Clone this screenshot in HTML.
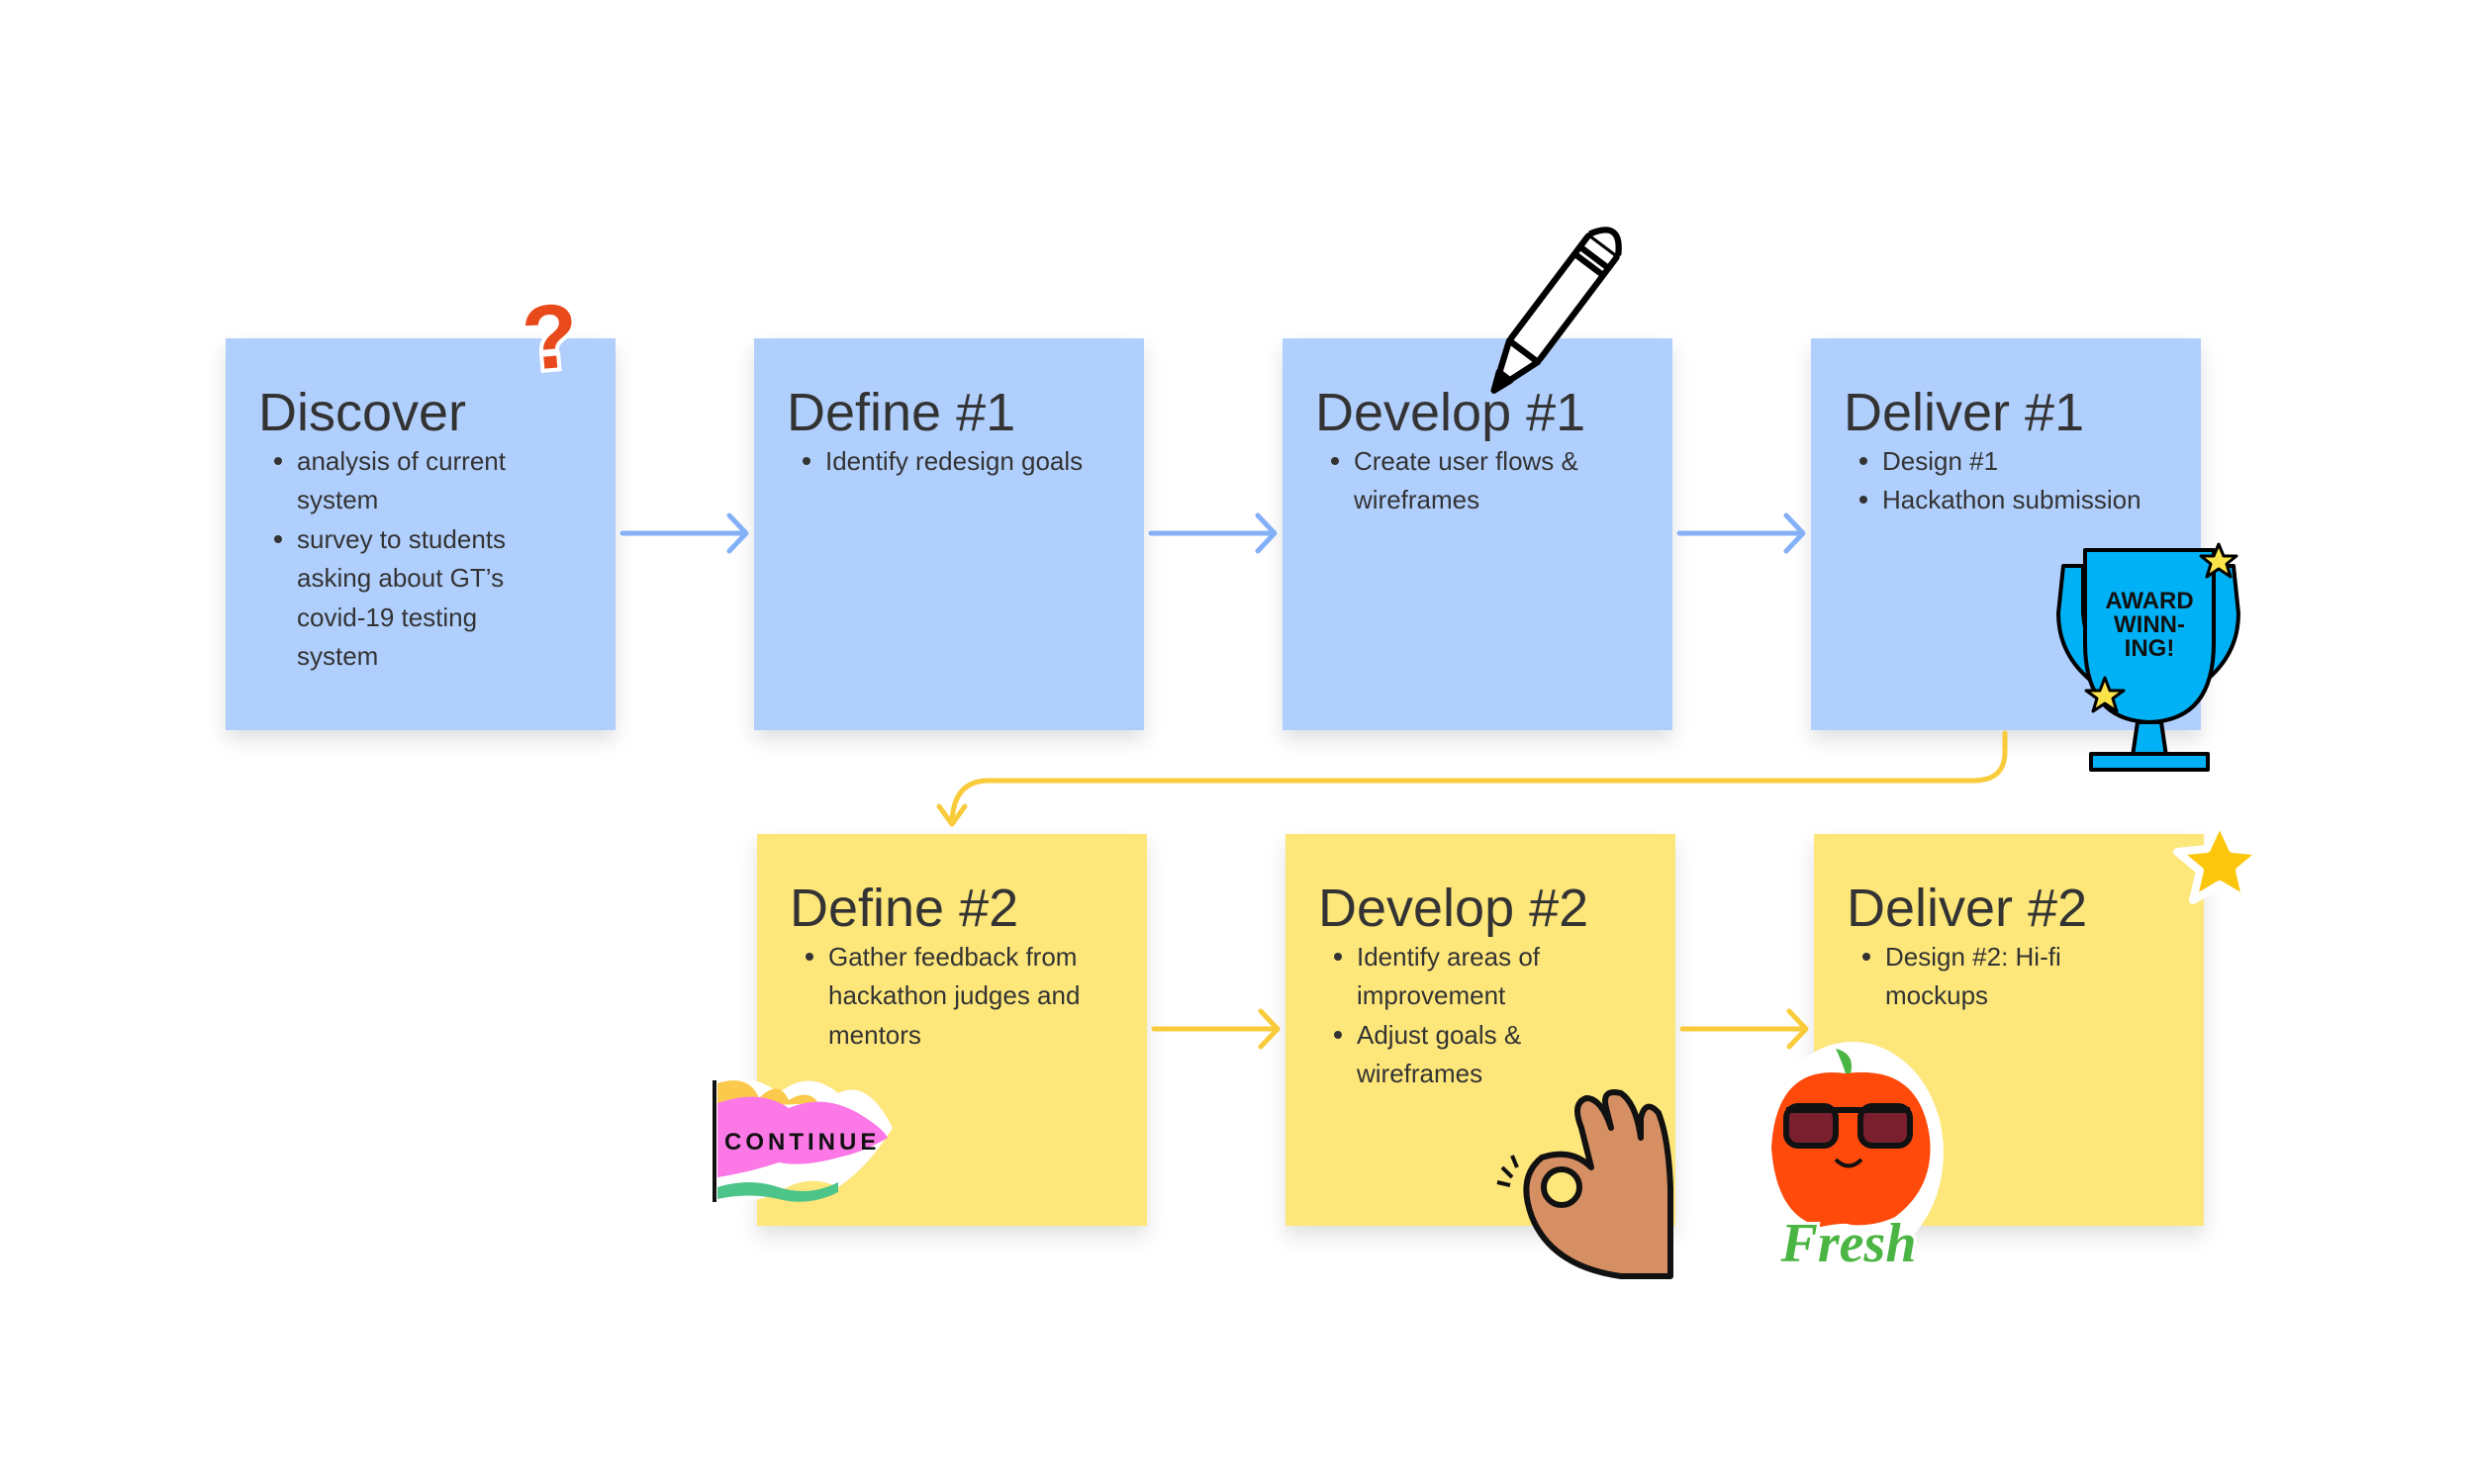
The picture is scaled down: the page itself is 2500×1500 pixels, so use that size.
<!DOCTYPE html>
<html><head><meta charset="utf-8"><style>
html,body{margin:0;padding:0;background:#fff;}
svg{display:block;}
text{font-family:"Liberation Sans",sans-serif;fill:#333;}
.t{font-size:54px;}
.b{font-size:26px;}
</style></head><body>
<svg width="2500" height="1500" viewBox="0 0 2500 1500" xmlns="http://www.w3.org/2000/svg">
<defs>
<filter id="sh" x="-10%" y="-10%" width="130%" height="130%"><feDropShadow dx="0" dy="10" stdDeviation="10" flood-color="#000" flood-opacity="0.12"/></filter>
</defs>
<g filter="url(#sh)" fill="#b1cffd">
<rect x="228" y="342" width="394" height="396"/>
<rect x="762" y="342" width="394" height="396"/>
<rect x="1296" y="342" width="394" height="396"/>
<rect x="1830" y="342" width="394" height="396"/>
</g>
<g filter="url(#sh)" fill="#fde67a">
<rect x="765" y="843" width="394" height="396"/>
<rect x="1299" y="843" width="394" height="396"/>
<rect x="1833" y="843" width="394" height="396"/>
</g>
<g stroke="#84b0f8" stroke-width="5" fill="none" stroke-linecap="round" stroke-linejoin="round">
<path d="M629 539 H753 M737 521 L754 539 L737 557"/>
<path d="M1163 539 H1287 M1271 521 L1288 539 L1271 557"/>
<path d="M1697 539 H1821 M1805 521 L1822 539 L1805 557"/>
</g>
<g stroke="#f9cb3a" stroke-width="5" fill="none" stroke-linecap="round" stroke-linejoin="round">
<path d="M1166 1040 H1290 M1274 1022 L1291 1040 L1274 1058"/>
<path d="M1700 1040 H1824 M1808 1022 L1825 1040 L1808 1058"/>
<path d="M2026 741 V760 Q2026 789 1994 789 H999 Q964 789 962 830 M949 815 L962 833 L975 815"/>
</g>
<text class="t" x="261" y="435">Discover</text>
<circle cx="281" cy="466" r="4" fill="#333"/><text class="b" x="300" y="475">analysis of current</text>
<text class="b" x="300" y="514">system</text>
<circle cx="281" cy="545" r="4" fill="#333"/><text class="b" x="300" y="554">survey to students</text>
<text class="b" x="300" y="593">asking about GT’s</text>
<text class="b" x="300" y="633">covid-19 testing</text>
<text class="b" x="300" y="672">system</text>
<text class="t" x="795" y="435">Define #1</text>
<circle cx="815" cy="466" r="4" fill="#333"/><text class="b" x="834" y="475">Identify redesign goals</text>
<text class="t" x="1329" y="435">Develop #1</text>
<circle cx="1349" cy="466" r="4" fill="#333"/><text class="b" x="1368" y="475">Create user flows &amp;</text>
<text class="b" x="1368" y="514">wireframes</text>
<text class="t" x="1863" y="435">Deliver #1</text>
<circle cx="1883" cy="466" r="4" fill="#333"/><text class="b" x="1902" y="475">Design #1</text>
<circle cx="1883" cy="505" r="4" fill="#333"/><text class="b" x="1902" y="514">Hackathon submission</text>

<text class="t" x="798" y="936">Define #2</text>
<circle cx="818" cy="967" r="4" fill="#333"/><text class="b" x="837" y="976">Gather feedback from</text>
<text class="b" x="837" y="1015">hackathon judges and</text>
<text class="b" x="837" y="1055">mentors</text>
<text class="t" x="1332" y="936">Develop #2</text>
<circle cx="1352" cy="967" r="4" fill="#333"/><text class="b" x="1371" y="976">Identify areas of</text>
<text class="b" x="1371" y="1015">improvement</text>
<circle cx="1352" cy="1046" r="4" fill="#333"/><text class="b" x="1371" y="1055">Adjust goals &amp;</text>
<text class="b" x="1371" y="1094">wireframes</text>
<text class="t" x="1866" y="936">Deliver #2</text>
<circle cx="1886" cy="967" r="4" fill="#333"/><text class="b" x="1905" y="976">Design #2: Hi-fi</text>
<text class="b" x="1905" y="1015">mockups</text>

<text x="556" y="372" font-size="92" font-weight="bold" text-anchor="middle" style="fill:#e94a1c;stroke:#fff;stroke-width:8;paint-order:stroke" transform="rotate(-5 556 340)">?</text>
<g transform="translate(1572 312) rotate(37) scale(0.9)" stroke="#000" stroke-width="7" fill="#fff" stroke-linejoin="round">
<rect x="-20" y="-90" width="40" height="150" rx="4"/>
<path d="M-20 60 L0 115 L20 60 Z"/>
<path d="M-8 95 L0 115 L8 95 Z" fill="#000"/>
<path d="M-20 -90 Q0 -125 20 -90" />
<line x1="-20" y1="-72" x2="20" y2="-72"/><line x1="-20" y1="-62" x2="20" y2="-62"/>
</g>
<g stroke="#000" stroke-width="4" stroke-linejoin="round">
<path d="M2085 572 H2105 V620 Q2110 670 2135 690 L2130 700 Q2080 670 2080 620 Z" fill="#00b2f5"/>
<path d="M2257 572 H2237 V620 Q2232 670 2207 690 L2212 700 Q2262 670 2262 620 Z" fill="#00b2f5"/>
<path d="M2107 556 H2237 V650 Q2237 728 2172 730 Q2107 728 2107 650 Z" fill="#00b2f5"/>
<path d="M2160 730 L2155 764 H2189 L2184 730 Z" fill="#00b2f5"/>
<rect x="2113" y="762" width="118" height="16" fill="#00b2f5"/>
<polygon points="2242,550 2247,562 2260,562 2250,570 2254,583 2242,575 2230,583 2234,570 2224,562 2237,562" fill="#fbe44a" stroke-width="3"/>
<polygon points="2127,685 2132,698 2146,698 2135,706 2139,719 2127,711 2115,719 2119,706 2108,698 2122,698" fill="#fbe44a" stroke-width="3"/>
</g>
<text x="2172" y="615" font-size="24" font-weight="bold" text-anchor="middle" style="fill:#111">AWARD</text>
<text x="2172" y="639" font-size="24" font-weight="bold" text-anchor="middle" style="fill:#111">WINN-</text>
<text x="2172" y="663" font-size="24" font-weight="bold" text-anchor="middle" style="fill:#111">ING!</text>
<polygon points="2243,830 2256,858 2286,861 2263,880 2270,910 2243,894 2216,910 2223,880 2200,861 2230,858" fill="#fcc60d" stroke="#fff" stroke-width="8" stroke-linejoin="round"/>
<g>
<path d="M722 1100 Q757 1080 787 1105 Q817 1080 847 1105 Q877 1090 902 1140 Q877 1180 847 1200 Q817 1185 787 1205 Q757 1220 722 1210 Z" fill="#fff"/>
<path d="M725 1095 Q757 1085 767 1110 Q787 1090 797 1112 Q817 1100 827 1115 L725 1120 Z" fill="#fbc94c"/>
<path d="M725 1115 Q767 1100 797 1120 Q832 1105 867 1125 Q892 1140 897 1150 Q872 1165 847 1170 Q812 1180 787 1175 Q757 1185 725 1190 Z" fill="#fb78e6"/>
<path d="M725 1200 Q757 1190 787 1200 Q817 1210 847 1195 L847 1205 Q817 1220 787 1212 Q757 1205 725 1212 Z" fill="#4dc489"/>
<line x1="722" y1="1092" x2="722" y2="1215" stroke="#111" stroke-width="4"/>
<text x="732" y="1162" font-size="24" font-weight="bold" letter-spacing="4" style="fill:#111">CONTINUE</text>
</g>
<g stroke="#111" stroke-width="6" stroke-linejoin="round">
<path d="M1688 1290 H1638 Q1568 1280 1548 1230 Q1533 1190 1558 1170 Q1588 1160 1608 1180 L1598 1140 Q1588 1115 1603 1110 Q1618 1110 1628 1140 L1623 1120 Q1618 1100 1638 1105 Q1653 1115 1658 1150 L1658 1130 Q1663 1110 1676 1125 Q1686 1150 1688 1200 Z" fill="#d68f63"/>
<circle cx="1578" cy="1200" r="18" fill="#fde67a"/>
<path d="M1518 1180 L1528 1190 M1513 1195 L1526 1198 M1528 1168 L1533 1180" fill="none" stroke-width="4"/>
</g>
<g>
<ellipse cx="1872" cy="1165" rx="92" ry="112" fill="#fff"/>
<path d="M1865 1085 Q1795 1075 1790 1160 Q1795 1230 1840 1240 Q1865 1235 1870 1238 Q1895 1240 1915 1230 Q1955 1200 1950 1150 Q1940 1075 1865 1085 Z" fill="#ff4a0c"/>
<path d="M1865 1085 Q1860 1070 1855 1060 Q1875 1065 1870 1085" fill="#4bb543"/>
<rect x="1805" y="1118" width="50" height="40" rx="12" fill="#7a1f2e" stroke="#111" stroke-width="6"/>
<rect x="1880" y="1118" width="50" height="40" rx="12" fill="#7a1f2e" stroke="#111" stroke-width="6"/>
<line x1="1805" y1="1122" x2="1930" y2="1122" stroke="#111" stroke-width="6"/>
<path d="M1855 1172 Q1868 1185 1881 1172" fill="none" stroke="#111" stroke-width="4"/>
<text x="1868" y="1275" font-size="56" font-weight="bold" font-style="italic" text-anchor="middle" style="fill:#4bb543;font-family:'Liberation Serif',serif;stroke:#fff;stroke-width:6;paint-order:stroke">Fresh</text>
</g>
</svg>
</body></html>
